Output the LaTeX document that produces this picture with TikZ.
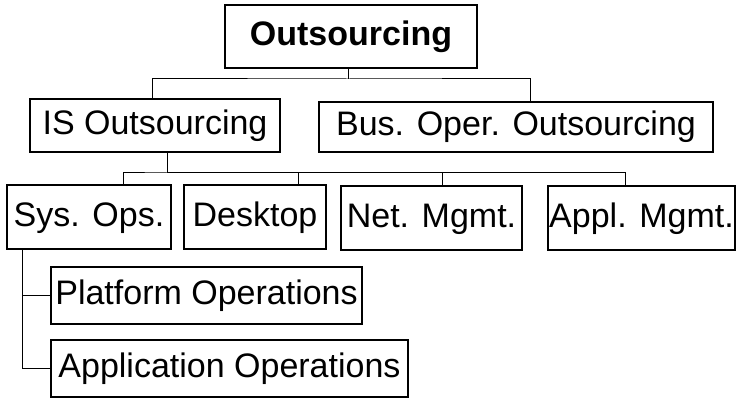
\documentclass[tikz,border=0pt]{standalone}
\usepackage{fontspec}
\setmainfont{Liberation Sans}
\begin{document}
\begin{tikzpicture}[x=1pt,y=-1pt,
  box/.style 2 args={draw, line width=1.2pt, inner sep=0pt, text height=25pt, text depth=7pt,
    minimum width=#1, minimum height=#2, font=\fontsize{34}{40}\selectfont},
  conn/.style={line width=1pt}]
\fill[white] (0,0) rectangle (736,398);
\useasboundingbox (0,0) rectangle (736,398);
% nodes
\node[box={252pt}{63pt}, font=\fontsize{34}{40}\selectfont\bfseries] (out) at (351,36.5) {Outsourcing};
\node[box={250pt}{53pt}] (is) at (155,125.5) {IS Outsourcing};
\node[box={394pt}{50pt}] (bus) at (516,127) {Bus. Oper. Outsourcing};
\node[box={164pt}{64pt}] (sys) at (89,217) {Sys. Ops.};
\node[box={142pt}{64pt}] (desk) at (255,217) {Desktop};
\node[box={181pt}{64pt}] (net) at (431.5,218) {Net. Mgmt.};
\node[box={187pt}{64pt}] (appl) at (641.5,218) {Appl. Mgmt.};
\node[box={311pt}{57pt}] (plat) at (206.5,295.5) {Platform Operations};
\node[box={357pt}{57pt}] (app) at (229.5,368.5) {Application Operations};
% connectors
\coordinate (jA) at (348,79);
\coordinate (jB) at (167,173);
\draw[conn] ([xshift=-3pt]out.south) -- (jA);
\draw[conn] ([xshift=-3pt]is.north) |- (jA) -| ([xshift=14pt]bus.north);
\draw[conn] ([xshift=12pt]is.south) -- (jB);
\draw[conn] ([xshift=34pt]sys.north) |- (jB) -| ([xshift=-16.5pt]appl.north);
\draw[conn] ([xshift=43pt]desk.north) |- (jB);
\draw[conn] ([xshift=10.5pt]net.north) |- (jB);
\draw[conn] ([xshift=-67pt]sys.south) |- (plat.west);
\draw[conn] ([xshift=-67pt]sys.south) |- (app.west);
\end{tikzpicture}
\end{document}
